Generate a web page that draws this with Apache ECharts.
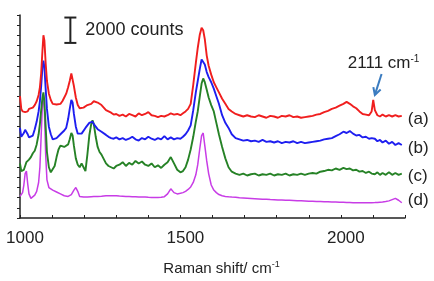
<!DOCTYPE html>
<html style="height: 100%">
<head>
<meta charset="utf-8">
<script src="https://cdn.jsdelivr.net/npm/echarts@6/dist/echarts.min.js"></script>
</head>
<body style="height: 100%; margin: 0; background: #fff">
<div id="container" style="width: 434px; height: 281px"></div>
<script type="text/javascript">
// Raman shift (cm-1), shared by the four spectra
var shift = [
  1000,1004,1008,1012,1016,1020,1024,1028,1034,1040,
  1046,1052,1058,1062,1066,1070,1073,1076,1080,1084,
  1090,1096,1102,1108,1114,1120,1126,1132,1138,1144,
  1150,1155,1160,1164,1168,1174,1180,1186,1192,1198,
  1204,1210,1216,1222,1226,1230,1236,1242,1248,1254,
  1260,1268,1276,1284,1292,1300,1310,1320,1330,1340,
  1350,1360,1370,1380,1390,1400,1410,1420,1430,1440,
  1450,1460,1470,1480,1490,1500,1508,1516,1524,1532,
  1540,1548,1554,1560,1566,1571,1576,1582,1588,1596,
  1604,1612,1620,1630,1640,1650,1660,1672,1684,1696,
  1708,1720,1732,1744,1756,1768,1780,1792,1804,1816,
  1828,1840,1852,1864,1876,1888,1900,1912,1924,1936,
  1948,1960,1972,1984,1996,2008,2018,2028,2038,2048,
  2058,2068,2078,2088,2096,2101,2106,2114,2122,2130,
  2140,2150,2160,2170,2180,2190
];
// intensities, in hundreds of counts (offset stacked)
var specA = [
  96,86,84,85.5,83.5,85,84,86,85,87,
  89,92,97,103,114,132,144,140,122,108,
  98,93,90,88.5,89.5,88,90,92,95,98,
  103,108,114,113,104,95,89,86.5,85,87,
  86,89,88,90,91,92,93,91,92,89,
  88,85,84,83,81.5,82,80.5,81.5,80,82,
  81,80,82.5,81,82,83.5,81,80.5,79.5,80.5,
  80,81,82.5,81.5,82,81,82.5,84,86,90,
  105,122,134,144,150,148,141,128,120,113,
  107,103,99,94,90,86,84,82,81,80,
  81,80,79.5,81,80,79,80.5,80,79,80.5,
  80,81,79.5,80,79,79.5,80,80.5,81.5,82,
  83.5,84.5,86,87,88.5,90,91.5,90,88,86.5,
  84,82,81.5,81,84,93,85,81,80,81.5,
  80,81,80,81,80,80.5
];
var specB = [
  71,64,65,67,69.5,69,66,63.5,62.5,65,
  70,76,84,92,104,119,124,119,102,86,
  72,66,62,61.5,63,64.5,66,67.5,69,71,
  78,86,93,91,82,72,66.5,65.5,66.5,68,
  71,73,75,76.5,76,74,73.5,70,71,68,
  67,65.5,64,63,62.5,63.5,62,63,61.5,62.5,
  64,62,61,63,62,64,62.5,61.5,63,62,
  64.5,62,63.5,62,63,62.5,64,66,69,73,
  85,99,108,117,125,126,121,115,111,107,
  102,96,90,81,75,71,66,63,62,61,
  61.5,60.5,61,60,61.5,60,60.5,59.5,60.5,59,
  60,59.5,60.5,59,60,59,59.5,60,60.5,61,
  62,62.5,63,64.5,66,68,67,68.5,66.5,65,
  65.5,63.5,64,62.5,63,61.5,62.5,60.5,61.5,59.5,
  61,58.5,60,57.5,59,57.5
];
var specC = [
  43,37,36,38,41,44,43,46,48,51,
  53,58,66,74,85,95,99,92,72,52,
  40,36,35.5,41,48,54,57,57.5,56,55,
  58,62,67,65,57,47,42,40,43,40,
  37,50,65,74,77,74,64,56,52,50,
  47,43,41,40,39,41,42,44,41,43.5,
  42,45,43,44.5,42,41,43,40,41.5,39.5,
  42,44,48,43,38,36,37,40,46,54,
  64,76,84,95,106,110,107,101,95,89,
  84,75,66,56,47,40,36.5,35,34,35,
  33.5,34.5,35,33.5,34.5,34,35,33.5,34.5,34,
  35,33.5,34.5,34,35,34,35,35.5,35,36.5,
  37,38,37.5,39,38,39.5,38.5,39,37.5,38,
  36.5,37,35.5,36.5,35,36,34.5,36,34,35.5,
  34,36,34,35.5,34,35
];
var specD = [
  17,18,20,26,35,37,27,19,15.5,16,
  18,21,28,40,65,90,97,85,50,30,
  24,23,22,21,20.5,20,19,18,17.5,17,
  17,17.5,18.5,20,22,24,21,17,16.5,16.5,
  16.5,16.5,16.8,16.8,16.8,17,17,17,17.2,17.2,
  17.5,17.5,17.6,17.6,17.5,17.5,17.3,17.2,17,17,
  16.8,16.8,16.6,16.6,16.5,16.3,16.2,16.2,16.2,16.3,
  16.8,19,23,20,19,19.5,20,21,22.5,24.5,
  28,34,42,54,65,67,57,45,35,26,
  22,20,18.5,17.5,17,16.7,16.5,16.3,16,15.8,
  15.6,15.4,15.2,15,14.8,14.7,14.5,14.4,14.2,14.1,
  14,13.9,13.8,13.6,13.5,13.4,13.3,13.2,13.1,13,
  12.9,12.8,12.7,12.6,12.5,12.4,12.3,12.2,12.1,12,
  12,12,12,12,12.1,12.1,12.2,12.3,12.5,12.7,
  13,13.5,14.5,15.5,14,12
];
var traceNames = ['(a)', '(b)', '(c)', '(d)'];
var xLabels = [1000, 1500, 2000];
// scale bar: x, bottom, top (2000 counts = 20)
var scaleBar = [1157, 138, 158];
// arrow for the 2111 band: from [x, y] to [x, y]
var peakArrow = [[2127, 113.5], [2106, 97]];

var font = "'Liberation Sans', Arial, sans-serif";
var ink = '#222';
var colors = ['#f01e1e', '#1e1ef0', '#268226', '#c83ce6'];
var widths = [1.9, 1.9, 1.9, 1.5];
var labelShift = [[0, 3], [0, 3.5], [0, 3], [0, -2]];

function pairs(ys) {
  return shift.map(function (x, i) { return [x, ys[i]]; });
}

var dom = document.getElementById('container');
var myChart = echarts.init(dom, null, {renderer: 'canvas'});

var lineSeries = [specA, specB, specC, specD].map(function (ys, k) {
  return {
    name: traceNames[k],
    type: 'line',
    data: pairs(ys),
    showSymbol: false,
    symbol: 'none',
    lineStyle: {color: colors[k], width: widths[k]},
    endLabel: {
      show: true,
      formatter: traceNames[k],
      color: ink,
      fontSize: 17,
      fontFamily: font,
      distance: 6,
      offset: labelShift[k]
    },
    silent: true,
    z: 5 - k
  };
});

var option = {
  animation: false,
  grid: {left: 20, right: 29, top: 15, bottom: 50},
  xAxis: {
    type: 'value',
    min: 1000,
    max: 2200,
    interval: 100,
    name: 'Raman shift/ cm{s|-1}',
    nameLocation: 'middle',
    nameGap: 42,
    nameTextStyle: {
      color: ink, fontSize: 15, fontFamily: font,
      padding: [0, 0, 0, 18],
      rich: {s: {fontSize: 9, fontFamily: font, color: ink, padding: [0, 0, 8, 0]}}
    },
    axisLine: {lineStyle: {color: ink, width: 1.5}},
    axisTick: {inside: true, length: 3, lineStyle: {color: ink}},
    axisLabel: {
      color: ink, fontSize: 17, fontFamily: font, margin: 12,
      padding: [0, 0, 0, 10],
      formatter: function (v) { return xLabels.indexOf(v) >= 0 ? String(v) : ''; }
    },
    splitLine: {show: false}
  },
  yAxis: {
    type: 'value',
    min: 0,
    max: 160,
    interval: 8,
    axisLine: {show: true, lineStyle: {color: ink, width: 1.5}},
    axisTick: {show: true, length: 3, lineStyle: {color: ink}},
    axisLabel: {show: false},
    splitLine: {show: false}
  },
  series: lineSeries.concat([
    {
      type: 'custom',
      silent: true,
      z: 10,
      data: [scaleBar],
      renderItem: function (params, api) {
        var b = api.coord([api.value(0), api.value(1)]);
        var t = api.coord([api.value(0), api.value(2)]);
        var w = 6;
        var st = {stroke: ink, lineWidth: 2};
        return {
          type: 'group',
          children: [
            {type: 'line', shape: {x1: t[0], y1: t[1], x2: b[0], y2: b[1]}, style: st},
            {type: 'line', shape: {x1: t[0] - w, y1: t[1], x2: t[0] + w, y2: t[1]}, style: st},
            {type: 'line', shape: {x1: b[0] - w, y1: b[1], x2: b[0] + w, y2: b[1]}, style: st},
            {type: 'text', x: t[0] + 15, y: (t[1] + b[1]) / 2,
              style: {text: '2000 counts', fill: ink, fontSize: 18, fontFamily: font,
                textAlign: 'left', textVerticalAlign: 'middle'}}
          ]
        };
      }
    },
    {
      type: 'custom',
      silent: true,
      z: 10,
      data: [[peakArrow[0][0], peakArrow[0][1], peakArrow[1][0], peakArrow[1][1]]],
      renderItem: function (params, api) {
        var p0 = api.coord([api.value(0), api.value(1)]);
        var p1 = api.coord([api.value(2), api.value(3)]);
        var ang = Math.atan2(p1[1] - p0[1], p1[0] - p0[0]);
        var h = 8, spread = 0.5;
        var a1 = [p1[0] - h * Math.cos(ang - spread), p1[1] - h * Math.sin(ang - spread)];
        var a2 = [p1[0] - h * Math.cos(ang + spread), p1[1] - h * Math.sin(ang + spread)];
        var st = {stroke: '#3b7cc0', lineWidth: 2, fill: null};
        return {
          type: 'group',
          children: [
            {type: 'line', shape: {x1: p0[0], y1: p0[1], x2: p1[0], y2: p1[1]}, style: st},
            {type: 'polyline', shape: {points: [a1, p1, a2]}, style: st},
            {type: 'text', x: p0[0] + 2, y: p0[1] - 11,
              style: {text: '2111 cm{s|-1}', fill: ink, fontSize: 17, fontFamily: font,
                textAlign: 'center', textVerticalAlign: 'middle',
                rich: {s: {fontSize: 10, fontFamily: font, fill: ink, padding: [0, 0, 8, 0]}}}}
          ]
        };
      }
    }
  ])
};

if (option && typeof option === 'object') {
  myChart.setOption(option, true);
}
</script>
</body>
</html>
